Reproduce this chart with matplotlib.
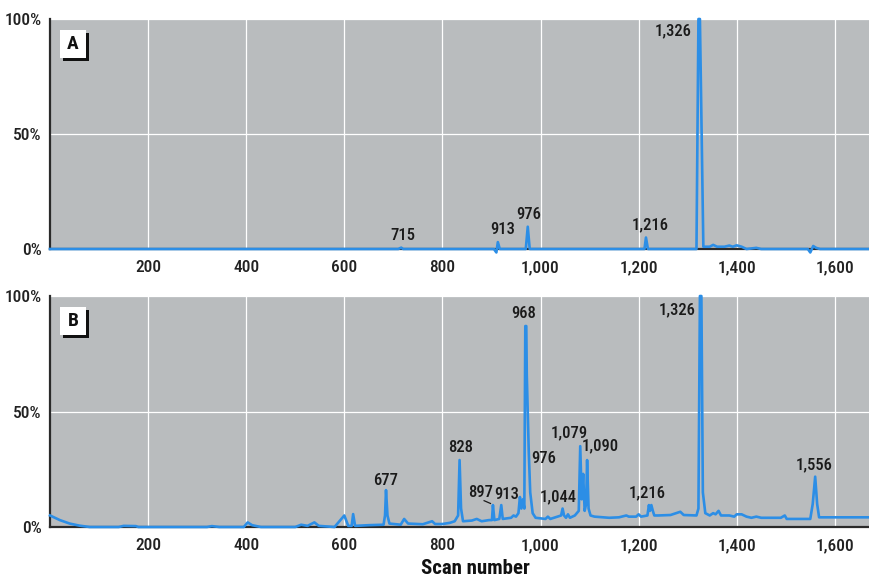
import matplotlib
matplotlib.use("Agg")
import matplotlib.pyplot as plt
from matplotlib.patches import Rectangle
from matplotlib.ticker import FuncFormatter

# scan numbers and relative abundance (%)
scan_a = [0, 710, 716, 720, 905, 910, 913, 917, 970, 974, 978, 1212, 1215, 1219,
          1318, 1322, 1325, 1332, 1345, 1352, 1360, 1375, 1385, 1392, 1400, 1410,
          1420, 1440, 1450, 1545, 1550, 1556, 1562, 1570, 1670]
abund_a = [0, 0, 0.6, 0, 0, -1.5, 3, 0, 0, 9.7, 0, 0, 5, 0,
           0, 100, 100, 1, 1, 1.8, 1, 1, 1.5, 1, 1.6, 1,
           0, 0.5, 0, 0, -1.5, 1.3, 0.5, 0, 0]

scan_b = [0, 20, 40, 60, 81, 140, 150, 175, 180, 320, 330, 345, 395, 403, 412, 430,
          500, 512, 525, 539, 548, 580, 600, 608, 615, 618, 622, 650, 680, 683, 685,
          688, 692, 715, 722, 730, 760, 779, 785, 800, 815, 825, 832, 835, 838, 842,
          860, 870, 880, 895, 901, 903, 906, 916, 920, 923, 940, 945, 950, 955, 958,
          961, 964, 967, 969, 971, 972, 974, 976, 979, 984, 990, 1010, 1015, 1020,
          1035, 1042, 1045, 1048, 1052, 1056, 1060, 1070, 1078, 1081, 1084, 1087,
          1090, 1093, 1095, 1098, 1102, 1110, 1140, 1160, 1175, 1180, 1195, 1200,
          1205, 1218, 1221, 1223, 1226, 1229, 1232, 1240, 1265, 1285, 1292, 1318,
          1322, 1325, 1328, 1331, 1336, 1345, 1352, 1357, 1363, 1368, 1385, 1395,
          1400, 1410, 1420, 1430, 1440, 1450, 1490, 1498, 1502, 1550, 1555, 1560,
          1564, 1568, 1600, 1670]
abund_b = [5, 3, 1.5, 0.6, 0, 0, 0.5, 0.4, 0, 0, 0.4, 0, 0, 2, 0.8, 0,
           0, 1, 0.5, 2, 0.5, 0, 5, 0.5, 0.5, 5.6, 0.5, 0.8, 1, 5, 16,
           5, 1.5, 1, 3.5, 1.5, 1.2, 2.5, 1.3, 1.3, 1.8, 2.5, 5, 29, 8, 2.5,
           2.8, 3.5, 2.5, 3, 3, 9.5, 3, 3.5, 9.5, 3.5, 4, 5, 4.5, 6, 13,
           8, 12, 8, 87, 87, 66, 50, 33, 15, 6, 4, 3.5, 4.5, 3.5,
           4.5, 5, 8, 5, 4, 5.5, 4, 5, 7, 35, 12, 23,
           7, 10, 29, 8, 5, 4.5, 4, 4.2, 5, 4.5, 4.5, 5.5,
           4.5, 5, 9.5, 7, 9.5, 7, 5, 5, 5.2, 6.6, 5.2, 5,
           8, 100, 100, 15, 6, 5, 6, 5.5, 7, 5, 5, 4.5,
           5.5, 5.5, 4.5, 4, 4.5, 4, 4, 5, 3.5, 3.5, 10, 21.8,
           10, 4.2, 4.2, 4.2]

# peak labels: text, x (scan), y (%)
labels_a = [("715", 720, 6), ("913", 922, 8.3), ("976", 976, 15.2),
            ("1,216", 1224, 10.4), ("1,326", 1271, 94.9)]
labels_b = [("677", 685, 20.3), ("828", 837, 34.3), ("897", 878, 14.8),
            ("913", 931, 13.9), ("968", 965, 92.5), ("976", 1007, 29.7),
            ("1,044", 1037, 12.9), ("1,079", 1058, 40.8), ("1,090", 1122, 35.2),
            ("1,216", 1217, 15), ("1,326", 1279, 94.2), ("1,556", 1557, 26.8)]

xticks = [200, 400, 600, 800, 1000, 1200, 1400, 1600]
yticks = [0, 50, 100]

plt.rcParams['font.family'] = ['Roboto Condensed', 'Liberation Sans Narrow', 'Roboto', 'DejaVu Sans']
blue = '#2c8ee6'
bg = '#b9bcbe'

fig = plt.figure(figsize=(8.7, 5.81), dpi=100)
ax1 = fig.add_axes([0.0575, 0.5714, 0.9415, 0.3959])
ax2 = fig.add_axes([0.0575, 0.0929, 0.9415, 0.3976])


def style(ax, panel):
    ax.set_facecolor(bg)
    ax.set_xlim(0, 1670)
    ax.set_ylim(0, 100)
    ax.set_xticks(xticks)
    ax.set_yticks(yticks)
    ax.xaxis.set_major_formatter(FuncFormatter(lambda v, p: '{:,}'.format(int(v))))
    ax.yaxis.set_major_formatter(FuncFormatter(lambda v, p: '%d%%' % v))
    ax.tick_params(length=0, labelsize=12.5, colors='#222222')
    for lab in ax.get_xticklabels() + ax.get_yticklabels():
        lab.set_fontweight('medium')
    ax.tick_params(axis='x', pad=8)
    ax.tick_params(axis='y', pad=6)
    ax.grid(True, color='white', lw=0.9)
    ax.set_axisbelow(True)
    for s in ['top', 'right']:
        ax.spines[s].set_visible(False)
    for s in ['left', 'bottom']:
        ax.spines[s].set_color('#2a2a2a')
        ax.spines[s].set_linewidth(1.6)
        ax.spines[s].set_zorder(1)
    # panel letter box with a dark drop shadow
    ax.add_patch(Rectangle((0.0159, 0.818), 0.0317, 0.122, transform=ax.transAxes,
                           facecolor='#111111', edgecolor='none', zorder=5))
    ax.add_patch(Rectangle((0.0122, 0.831), 0.0317, 0.122, transform=ax.transAxes,
                           facecolor='white', edgecolor='none', zorder=6))
    ax.text(0.028, 0.892, panel, transform=ax.transAxes, ha='center', va='center',
            fontsize=14, fontweight='bold', color='#111111', zorder=7)


style(ax1, 'A')
style(ax2, 'B')

ax1.plot(scan_a, abund_a, color=blue, lw=1.9, clip_on=False, zorder=3)
ax2.plot(scan_b, abund_b, color=blue, lw=1.9, clip_on=False, zorder=3)

for t, x, y in labels_a:
    ax1.text(x, y, t, ha='center', va='center', fontsize=12, fontweight='medium',
             color='#1a1a1a')
for t, x, y in labels_b:
    ax2.text(x, y, t, ha='center', va='center', fontsize=12, fontweight='medium',
             color='#1a1a1a')
# small leader for the 897 label
ax2.plot([885, 898], [11.4, 10.2], color='#1a1a1a', lw=0.9)

fig.text(0.546, 0.021, 'Scan number', ha='center', va='center',
         fontsize=15, fontweight='bold', color='#111111')

fig.savefig('out.png', dpi=100)
